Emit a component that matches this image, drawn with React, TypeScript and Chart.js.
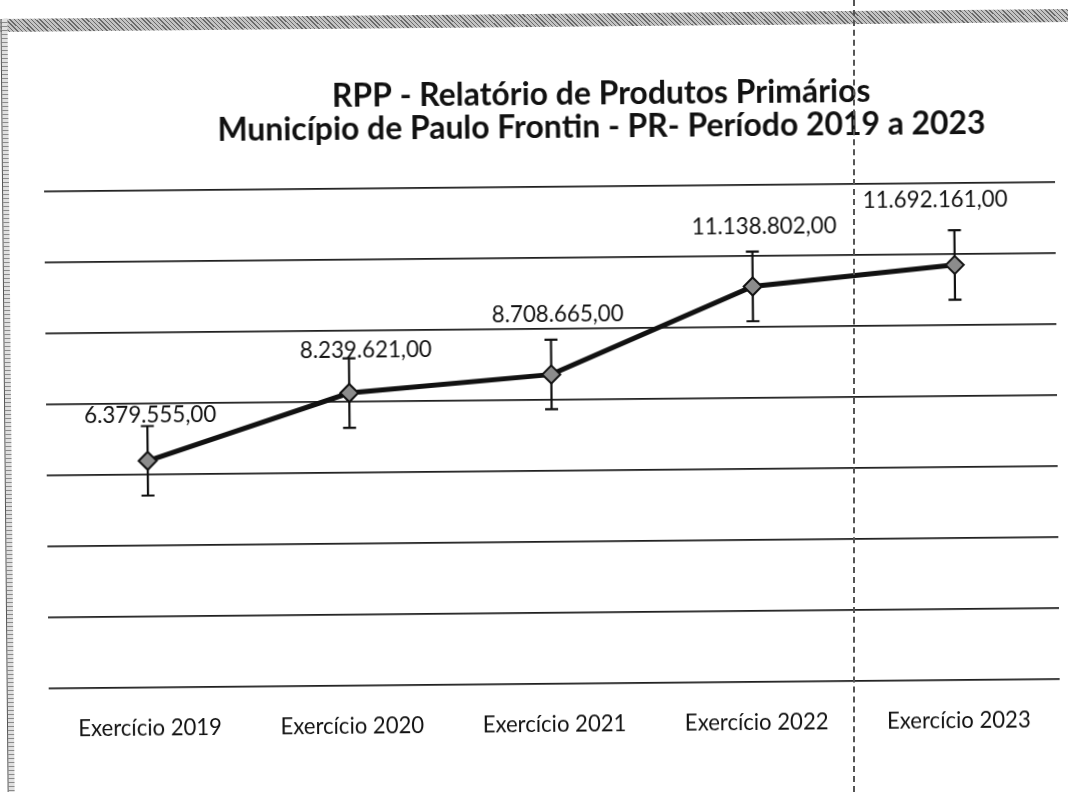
import React, { useEffect, useRef } from "react";
import { Chart, registerables } from "chart.js";

Chart.register(...registerables);

// ---------- data ----------
const TITLE_LINES = [
  "RPP - Relatório de Produtos Primários",
  "Município de Paulo Frontin - PR- Período 2019 a 2023",
];
const categories = [
  "Exercício 2019",
  "Exercício 2020",
  "Exercício 2021",
  "Exercício 2022",
  "Exercício 2023",
];
const values = [6379555, 8239621, 8708665, 11138802, 11692161];
// standard-error bars (approx. ±0.98 M)
const errors = [980000, 980000, 980000, 980000, 980000];
const Y_MIN = 0;
const Y_MAX = 14000000;
const Y_STEP = 2000000;

// label placement tweaks (pixels relative to point), as in the original
const LABEL_DX = [3, 17, 7, 12, -19];
const LABEL_DY = [-38, -35, -53, -52, -58];

const FONT = "Lato, 'Open Sans', sans-serif";

function fmtBR(v: number): string {
  const int = Math.floor(v).toString();
  const withDots = int.replace(/\B(?=(\d{3})+(?!\d))/g, ".");
  const cents = Math.round((v - Math.floor(v)) * 100)
    .toString()
    .padStart(2, "0");
  return withDots + "," + cents;
}

function fitSize(text: string, weight: string, target: number): number {
  const c = document.createElement("canvas").getContext("2d");
  if (!c) return 20;
  c.font = `${weight} 100px ${FONT}`;
  const w = c.measureText(text).width;
  return Math.round((100 * target) / w * 10) / 10;
}

export default function App() {
  const ref = useRef<HTMLCanvasElement | null>(null);

  useEffect(() => {
    const canvas = ref.current;
    if (!canvas) return;

    const titleSize1 = fitSize(TITLE_LINES[0], "bold", 537);
    const titleSize2 = fitSize(TITLE_LINES[1], "bold", 769);
    const titleSize = Math.round(((titleSize1 + titleSize2) / 2) * 10) / 10;
    const labelSize = fitSize("11.692.161,00", "normal", 145);
    const catSize = fitSize("Exercício 2019", "normal", 144);

    const overlay = {
      id: "overlay",
      beforeDatasetsDraw(chart: any) {
        const ctx = chart.ctx;
        const ys = chart.scales.y;
        const meta = chart.getDatasetMeta(0);
        ctx.save();
        ctx.strokeStyle = "#111";
        ctx.lineWidth = 2.2;
        meta.data.forEach((pt: any, i: number) => {
          const x = pt.x;
          const top = ys.getPixelForValue(values[i] + errors[i]);
          const bot = ys.getPixelForValue(values[i] - errors[i]);
          ctx.beginPath();
          ctx.moveTo(x, top);
          ctx.lineTo(x, bot);
          ctx.moveTo(x - 6.5, top);
          ctx.lineTo(x + 6.5, top);
          ctx.moveTo(x - 6.5, bot);
          ctx.lineTo(x + 6.5, bot);
          ctx.stroke();
        });
        ctx.restore();
      },
      afterDatasetsDraw(chart: any) {
        const ctx = chart.ctx;
        const meta = chart.getDatasetMeta(0);
        ctx.save();
        ctx.fillStyle = "#111";
        ctx.font = `normal ${labelSize}px ${FONT}`;
        ctx.textAlign = "center";
        ctx.textBaseline = "alphabetic";
        meta.data.forEach((pt: any, i: number) => {
          ctx.fillText(fmtBR(values[i]), pt.x + LABEL_DX[i], pt.y + LABEL_DY[i]);
        });
        ctx.restore();
      },
      afterDraw(chart: any) {
        const ctx = chart.ctx;
        ctx.save();
        ctx.fillStyle = "#111";
        ctx.font = `bold ${titleSize}px ${FONT}`;
        ctx.textAlign = "center";
        ctx.textBaseline = "alphabetic";
        ctx.fillText(TITLE_LINES[0], 604, 105);
        ctx.fillText(TITLE_LINES[1], 604, 138);
        ctx.restore();
      },
    };

    const chart = new Chart(canvas, {
      type: "line",
      data: {
        labels: categories,
        datasets: [
          {
            data: values,
            borderColor: "#111",
            borderWidth: 5,
            pointStyle: "rectRot",
            pointRadius: 9,
            pointBackgroundColor: "#8c8c8c",
            pointBorderColor: "#111",
            pointBorderWidth: 2,
            tension: 0,
            clip: false as any,
          },
        ],
      },
      options: {
        animation: false,
        responsive: false,
        devicePixelRatio: 1,
        layout: { padding: { left: 46, right: 6, top: 187, bottom: 0 } },
        plugins: {
          legend: { display: false },
          tooltip: { enabled: false },
          title: { display: false },
        },
        scales: {
          x: {
            offset: true,
            grid: { display: false, drawTicks: false, offset: true },
            border: { display: false },
            ticks: {
              color: "#111",
              font: { family: FONT, size: catSize },
              padding: 28,
              maxRotation: 0,
              autoSkip: false,
            },
            afterFit(scale: any) {
              scale.height = 108.5;
              scale.paddingLeft = 0;
              scale.paddingRight = 0;
            },
          },
          y: {
            min: Y_MIN,
            max: Y_MAX,
            ticks: { display: false, stepSize: Y_STEP },
            grid: { color: "#1e1e1e", lineWidth: 1.8, drawTicks: false },
            border: { display: false },
            afterFit(scale: any) {
              scale.width = 0;
            },
          },
        },
      },
      plugins: [overlay],
    });

    return () => chart.destroy();
  }, []);

  return (
    <div
      style={{
        position: "fixed",
        left: 0,
        top: 0,
        width: 1068,
        height: 792,
        overflow: "hidden",
        background: "#fff",
      }}
    >
      <div
        style={{
          position: "absolute",
          left: 0,
          top: 0,
          width: 1068,
          height: 792,
          transform: "rotate(-0.53deg)",
          transformOrigin: "534px 396px",
        }}
      >
        <div
          style={{
            position: "absolute",
            left: 4,
            top: 14,
            width: 1080,
            height: 13,
            background:
              "repeating-linear-gradient(45deg, #6a6a6a 0px, #6a6a6a 1px, #c4c4c4 1px, #c4c4c4 3px)",
          }}
        />
        <div
          style={{
            position: "absolute",
            left: 4,
            top: 14,
            width: 6,
            height: 800,
            borderLeft: "1px solid #555",
            background:
              "repeating-linear-gradient(0deg, #8a8a8a 0px, #8a8a8a 1px, #e0e0e0 1px, #e0e0e0 4px)",
          }}
        />
        <canvas
          ref={ref}
          width={1068}
          height={792}
          style={{ position: "absolute", left: 0, top: 0, width: 1068, height: 792 }}
        />
      </div>
      <div
        style={{
          position: "absolute",
          left: 853,
          top: 0,
          width: 0,
          height: 792,
          borderLeft: "2px dashed #555",
        }}
      />
    </div>
  );
}
